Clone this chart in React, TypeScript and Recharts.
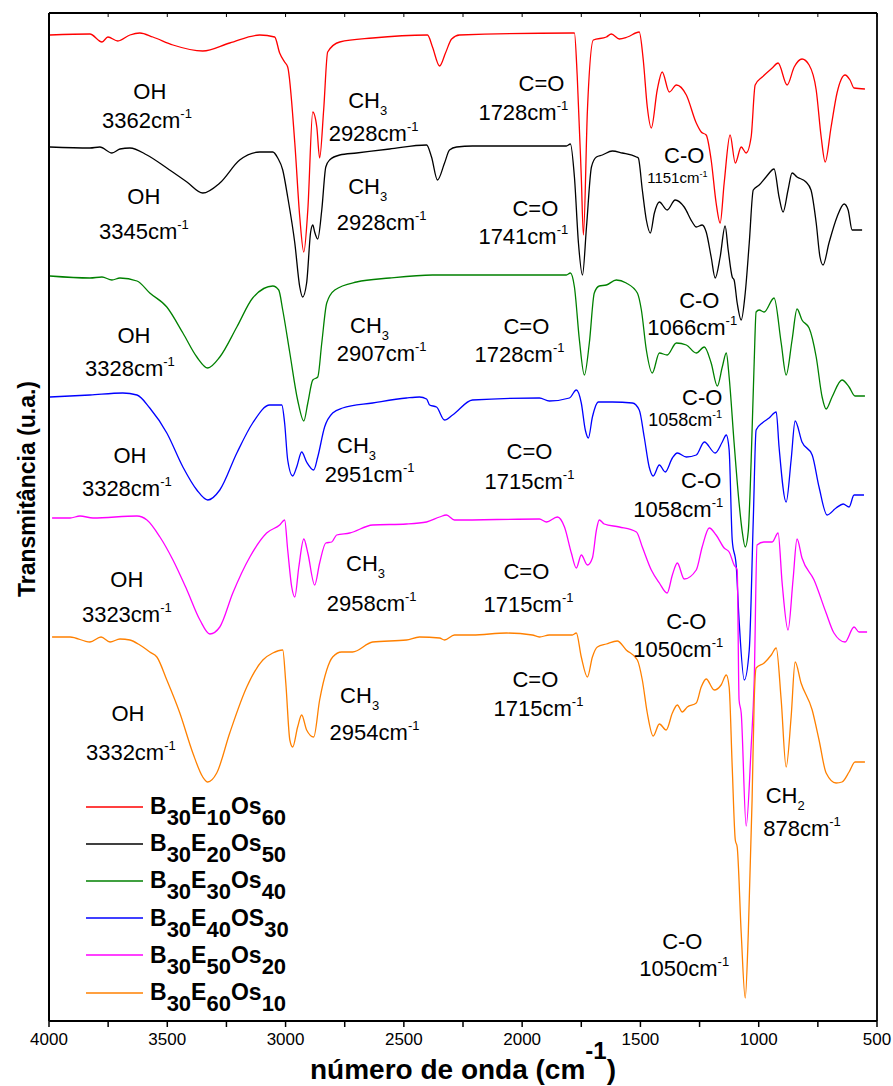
import { LineChart, Line, XAxis, YAxis, Legend, Label, ReferenceDot } from "recharts";

const FONT = "'Liberation Sans', Arial, Helvetica, sans-serif";

// wavenumber (cm-1) and transmittance (a.u., stacked) for each sample
const redWave = [3996, 3827, 3776, 3751, 3709, 3658, 3616, 3561, 3476, 3350, 3236, 3109, 3046, 3025, 3004, 2991, 2961, 2940, 2923, 2906, 2885, 2868, 2856, 2839, 2822, 2771, 2632, 2400, 2379, 2349, 2324, 2298, 2265, 1788, 1779, 1767, 1750, 1741, 1724, 1699, 1644, 1623, 1589, 1555, 1505, 1488, 1471, 1454, 1429, 1408, 1378, 1348, 1306, 1264, 1243, 1222, 1201, 1180, 1163, 1146, 1121, 1099, 1074, 1053, 1032, 1015, 985, 943, 918, 880, 850, 817, 787, 757, 736, 719, 694, 669, 635, 614, 597, 551];
const redT = [986, 987, 979, 984, 980, 986, 988, 984, 976, 970, 978, 986, 984, 968, 959, 954, 878, 804, 769, 811, 909, 894, 863, 911, 969, 979, 983, 986, 974, 955, 968, 982, 986, 988, 988, 944, 844, 786, 911, 981, 984, 987, 982, 984, 989, 961, 914, 893, 931, 949, 929, 936, 926, 898, 889, 886, 861, 818, 798, 838, 886, 858, 874, 868, 884, 936, 944, 953, 958, 936, 954, 962, 956, 931, 884, 859, 894, 928, 946, 941, 933, 932];

const blackWave = [3996, 3827, 3785, 3734, 3700, 3658, 3586, 3502, 3417, 3350, 3278, 3194, 3109, 3054, 3033, 3012, 2991, 2961, 2940, 2928, 2911, 2894, 2885, 2877, 2864, 2847, 2830, 2814, 2771, 2700, 2560, 2404, 2383, 2358, 2328, 2307, 2277, 2210, 1813, 1796, 1779, 1762, 1745, 1728, 1707, 1686, 1661, 1619, 1577, 1517, 1509, 1492, 1475, 1458, 1441, 1420, 1387, 1353, 1315, 1281, 1264, 1239, 1222, 1201, 1184, 1163, 1142, 1129, 1112, 1104, 1091, 1074, 1057, 1040, 1023, 998, 969, 935, 914, 897, 876, 859, 838, 800, 779, 757, 741, 728, 703, 669, 639, 622, 605, 563];
const blackT = [874, 873, 874, 868, 872, 873, 866, 853, 839, 828, 838, 861, 869, 869, 863, 851, 824, 778, 734, 724, 738, 789, 796, 789, 782, 811, 854, 861, 866, 868, 872, 876, 864, 841, 858, 871, 874, 875, 875, 877, 844, 778, 746, 794, 854, 864, 866, 870, 868, 864, 863, 831, 801, 788, 808, 819, 811, 821, 814, 799, 794, 796, 789, 764, 743, 764, 795, 771, 744, 741, 718, 701, 728, 778, 831, 836, 844, 852, 824, 809, 831, 848, 844, 839, 831, 798, 764, 756, 778, 804, 817, 811, 791, 791];

const greenWave = [3996, 3827, 3776, 3734, 3700, 3628, 3574, 3502, 3434, 3375, 3329, 3278, 3206, 3139, 3054, 3029, 3012, 2982, 2949, 2923, 2906, 2885, 2864, 2847, 2826, 2792, 2700, 2560, 2379, 2265, 1813, 1796, 1779, 1758, 1737, 1716, 1695, 1674, 1644, 1602, 1560, 1513, 1496, 1475, 1450, 1420, 1387, 1348, 1306, 1264, 1230, 1201, 1175, 1154, 1137, 1125, 1104, 1083, 1070, 1057, 1044, 1032, 1019, 1011, 998, 977, 935, 905, 884, 859, 838, 817, 787, 757, 732, 715, 690, 648, 618, 593, 551];
const greenT = [745, 743, 744, 741, 743, 740, 728, 714, 688, 664, 653, 664, 694, 723, 735, 731, 711, 668, 621, 600, 618, 641, 644, 678, 718, 731, 739, 743, 746, 746, 746, 748, 734, 681, 646, 678, 728, 735, 736, 741, 738, 728, 711, 671, 648, 668, 666, 678, 676, 668, 674, 658, 635, 654, 668, 644, 578, 518, 490, 474, 490, 560, 660, 709, 711, 709, 723, 678, 646, 681, 712, 701, 693, 664, 624, 612, 624, 641, 634, 625, 625];

const blueWave = [3996, 3827, 3688, 3628, 3574, 3502, 3434, 3375, 3329, 3278, 3206, 3139, 3067, 3016, 3004, 2991, 2970, 2953, 2932, 2911, 2881, 2864, 2835, 2801, 2759, 2632, 2489, 2434, 2404, 2391, 2362, 2328, 2294, 2210, 1927, 1885, 1800, 1771, 1750, 1733, 1720, 1703, 1678, 1619, 1534, 1505, 1484, 1463, 1446, 1420, 1395, 1365, 1344, 1306, 1264, 1230, 1184, 1154, 1137, 1125, 1112, 1095, 1083, 1061, 1040, 1023, 1011, 985, 956, 926, 914, 884, 863, 846, 817, 774, 745, 711, 673, 643, 618, 597, 555];
const blueT = [624, 626, 628, 626, 613, 588, 554, 531, 521, 531, 568, 598, 616, 616, 598, 561, 545, 554, 569, 559, 551, 564, 594, 608, 613, 618, 623, 624, 622, 616, 614, 601, 606, 621, 623, 620, 623, 631, 618, 591, 583, 604, 619, 619, 618, 611, 584, 554, 545, 556, 549, 563, 568, 564, 566, 579, 568, 579, 586, 571, 481, 455, 401, 341, 371, 501, 591, 598, 603, 609, 574, 519, 561, 600, 579, 566, 534, 506, 513, 517, 514, 526, 526];

const magentaWave = [3987, 3911, 3869, 3814, 3628, 3586, 3531, 3476, 3417, 3362, 3320, 3278, 3223, 3151, 3080, 3025, 3004, 2991, 2974, 2961, 2944, 2923, 2906, 2877, 2856, 2830, 2805, 2784, 2729, 2632, 2489, 2404, 2349, 2320, 2286, 1927, 1897, 1851, 1821, 1792, 1771, 1750, 1724, 1703, 1686, 1674, 1653, 1589, 1517, 1492, 1454, 1420, 1387, 1365, 1344, 1315, 1264, 1239, 1209, 1180, 1146, 1125, 1104, 1091, 1083, 1074, 1053, 1032, 1019, 1007, 977, 943, 918, 901, 876, 855, 838, 817, 766, 715, 682, 635, 597, 576, 542];
const magentaT = [503, 503, 505, 503, 505, 501, 484, 461, 431, 401, 387, 394, 428, 464, 488, 496, 501, 471, 434, 424, 454, 482, 468, 436, 458, 478, 479, 486, 488, 496, 497, 499, 504, 506, 501, 502, 499, 504, 494, 468, 453, 466, 456, 463, 491, 501, 497, 494, 489, 474, 451, 438, 428, 446, 458, 442, 451, 474, 493, 486, 473, 469, 456, 451, 321, 308, 195, 274, 341, 476, 479, 479, 488, 438, 391, 441, 482, 463, 441, 408, 388, 379, 394, 389, 389];

const orangeWave = [3987, 3911, 3827, 3780, 3742, 3700, 3658, 3616, 3574, 3544, 3502, 3447, 3392, 3350, 3329, 3291, 3236, 3164, 3096, 3054, 3012, 2999, 2982, 2970, 2949, 2932, 2911, 2881, 2856, 2826, 2801, 2763, 2717, 2632, 2489, 2434, 2349, 2328, 2286, 2210, 2066, 1957, 1927, 1885, 1788, 1771, 1750, 1724, 1703, 1682, 1644, 1598, 1560, 1513, 1492, 1471, 1446, 1420, 1391, 1365, 1344, 1323, 1302, 1264, 1243, 1222, 1188, 1159, 1137, 1125, 1112, 1099, 1091, 1074, 1057, 1044, 1028, 1019, 1011, 977, 947, 926, 905, 884, 863, 846, 821, 774, 745, 715, 673, 648, 618, 593, 551];
const orangeT = [384, 384, 379, 384, 379, 382, 381, 376, 369, 364, 341, 308, 268, 244, 239, 248, 288, 334, 361, 368, 371, 338, 281, 274, 294, 306, 291, 284, 321, 351, 364, 369, 369, 379, 381, 384, 383, 381, 386, 386, 388, 386, 384, 386, 386, 388, 364, 344, 364, 374, 377, 380, 371, 361, 341, 308, 285, 297, 291, 308, 316, 309, 314, 318, 334, 342, 331, 336, 346, 334, 254, 181, 174, 88, 23, 88, 221, 321, 353, 358, 366, 373, 321, 254, 304, 359, 338, 311, 281, 248, 238, 239, 249, 259, 259];

const xTicks = [4000, 3750, 3500, 3250, 3000, 2750, 2500, 2250, 2000, 1750, 1500, 1250, 1000, 750, 500];
const X_MIN = 500;
const X_MAX = 4000;
const Y_MAX = 1008;

// band assignments written on the plot
const notes = [
  { w: 3574, t: 930, text: "OH" },
  { w: 3586, t: 904, text: "3362cm", sup: "-1" },
  { w: 3599, t: 825, text: "OH" },
  { w: 3599, t: 793, text: "3345cm", sup: "-1" },
  { w: 3641, t: 686, text: "OH" },
  { w: 3658, t: 656, text: "3328cm", sup: "-1" },
  { w: 3658, t: 566, text: "OH" },
  { w: 3671, t: 536, text: "3328cm", sup: "-1" },
  { w: 3671, t: 442, text: "OH" },
  { w: 3671, t: 410, text: "3323cm", sup: "-1" },
  { w: 3666, t: 308, text: "OH" },
  { w: 3654, t: 272, text: "3332cm", sup: "-1" },
  { w: 2653, t: 921, text: "CH", sub: "3" },
  { w: 2628, t: 891, text: "2928cm", sup: "-1" },
  { w: 2653, t: 835, text: "CH", sub: "3" },
  { w: 2594, t: 802, text: "2928cm", sup: "-1" },
  { w: 2645, t: 696, text: "CH", sub: "3" },
  { w: 2594, t: 671, text: "2907cm", sup: "-1" },
  { w: 2700, t: 576, text: "CH", sub: "3" },
  { w: 2645, t: 550, text: "2951cm", sup: "-1" },
  { w: 2662, t: 458, text: "CH", sub: "3" },
  { w: 2636, t: 421, text: "2958cm", sup: "-1" },
  { w: 2687, t: 326, text: "CH", sub: "3" },
  { w: 2624, t: 292, text: "2954cm", sup: "-1" },
  { w: 1918, t: 938, text: "C=O" },
  { w: 1995, t: 912, text: "1728cm", sup: "-1" },
  { w: 1944, t: 813, text: "C=O" },
  { w: 1995, t: 788, text: "1741cm", sup: "-1" },
  { w: 1982, t: 695, text: "C=O" },
  { w: 2011, t: 670, text: "1728cm", sup: "-1" },
  { w: 1969, t: 570, text: "C=O" },
  { w: 1969, t: 543, text: "1715cm", sup: "-1" },
  { w: 1982, t: 450, text: "C=O" },
  { w: 1973, t: 420, text: "1715cm", sup: "-1" },
  { w: 1944, t: 342, text: "C=O" },
  { w: 1931, t: 316, text: "1715cm", sup: "-1" },
  { w: 1315, t: 866, text: "C-O" },
  { w: 1344, t: 846, text: "1151cm", sup: "-1", size: 15 },
  { w: 1251, t: 721, text: "C-O" },
  { w: 1281, t: 697, text: "1066cm", sup: "-1" },
  { w: 1239, t: 624, text: "C-O" },
  { w: 1311, t: 604, text: "1058cm", sup: "-1", size: 18 },
  { w: 1243, t: 541, text: "C-O" },
  { w: 1340, t: 515, text: "1058cm", sup: "-1" },
  { w: 1306, t: 400, text: "C-O" },
  { w: 1340, t: 375, text: "1050cm", sup: "-1" },
  { w: 1323, t: 80, text: "C-O" },
  { w: 1315, t: 56, text: "1050cm", sup: "-1" },
  { w: 888, t: 226, text: "CH", sub: "2" },
  { w: 817, t: 196, text: "878cm", sup: "-1" },
];

const zip = (w: number[], t: number[]) => w.map((x, i) => ({ w: x, t: t[i] }));

const series = [
  { name: "B30E10Os60", color: "#ff0000", data: zip(redWave, redT) },
  { name: "B30E20Os50", color: "#000000", data: zip(blackWave, blackT) },
  { name: "B30E30Os40", color: "#008000", data: zip(greenWave, greenT) },
  { name: "B30E40OS30", color: "#0000ff", data: zip(blueWave, blueT) },
  { name: "B30E50Os20", color: "#ff00ff", data: zip(magentaWave, magentaT) },
  { name: "B30E60Os10", color: "#ff8000", data: zip(orangeWave, orangeT) },
];

// chart box
const W = 893;
const H = 1086;
const PLOT = { left: 49, top: 13, right: 877, bottom: 1021 };

function NoteText({ cx, cy, note }: any) {
  const size = note.size ?? 22;
  const small = Math.round(size * 0.6);
  return (
    <text
      x={cx}
      y={cy + size * 0.36 + (note.sup ? 3 : 0)}
      textAnchor="middle"
      fontFamily={FONT}
      fontSize={size}
      fill="#000"
    >
      {note.text}
      {note.sub && (
        <tspan dy={size * 0.3} fontSize={small}>
          {note.sub}
        </tspan>
      )}
      {note.sup && (
        <tspan dy={-size * 0.45} fontSize={small}>
          {note.sup}
        </tspan>
      )}
    </text>
  );
}

function Formula({ name }: { name: string }) {
  const parts = name.split(/(\d+)/).filter((p) => p !== "");
  return (
    <span style={{ fontFamily: FONT, fontWeight: "bold", fontSize: 23, lineHeight: "23px", whiteSpace: "nowrap" }}>
      {parts.map((p, i) =>
        /\d/.test(p) ? (
          <span key={i} style={{ position: "relative", top: 11, fontSize: 22 }}>
            {p}
          </span>
        ) : (
          <span key={i}>{p}</span>
        )
      )}
    </span>
  );
}

function renderLegend() {
  return (
    <div>
      {series.map((s) => (
        <div key={s.name} style={{ display: "flex", alignItems: "center", height: 37.2 }}>
          <svg width={64} height={4} style={{ display: "block" }}>
            <line x1={0} x2={57} y1={2} y2={2} stroke={s.color} strokeWidth={1.5} />
          </svg>
          <Formula name={s.name} />
        </div>
      ))}
    </div>
  );
}

function XTitle(props: any) {
  const vb = props.viewBox || { x: 49, y: 1021, width: 828 };
  return (
    <text
      x={vb.x + vb.width / 2}
      y={vb.y + 58}
      textAnchor="middle"
      fontFamily={FONT}
      fontWeight="bold"
      fontSize={28}
      fill="#000"
    >
      número de onda (cm
      <tspan dy={-20} fontSize={24}>-1</tspan>
      <tspan dy={20}>)</tspan>
    </text>
  );
}

function YTitle(props: any) {
  const vb = props.viewBox || { x: 0, y: 13, height: 1008 };
  const cx = 27;
  const cy = vb.y + vb.height / 2 - 28;
  return (
    <text
      transform={`translate(${cx},${cy}) rotate(-90)`}
      textAnchor="middle"
      dy="0.35em"
      fontFamily={FONT}
      fontWeight="bold"
      fontSize={23}
      fill="#000"
    >
      Transmitância (u.a.)
    </text>
  );
}

// top and right edges of the box, with small inward ticks along the top
function Frame() {
  const pw = PLOT.right - PLOT.left;
  const tx = (v: number) => PLOT.left + ((X_MAX - v) / (X_MAX - X_MIN)) * pw;
  return (
    <svg
      width={W}
      height={H}
      style={{ position: "absolute", left: 0, top: 0, pointerEvents: "none" }}
    >
      <line x1={PLOT.left} x2={PLOT.right} y1={PLOT.top} y2={PLOT.top} stroke="#000" strokeWidth={1.8} />
      <line x1={PLOT.right} x2={PLOT.right} y1={PLOT.top} y2={PLOT.bottom} stroke="#000" strokeWidth={1.8} />
      {xTicks.map((v) => (
        <line key={v} x1={tx(v)} x2={tx(v)} y1={PLOT.top} y2={PLOT.top + 4} stroke="#000" strokeWidth={1} />
      ))}
    </svg>
  );
}

export default function App() {
  return (
    <div style={{ position: "absolute", left: 0, top: 0, width: W, height: H, background: "#fff" }}>
      <LineChart
        width={W}
        height={H}
        margin={{ top: PLOT.top, right: W - PLOT.right, bottom: 0, left: 0 }}
      >
        <XAxis
          dataKey="w"
          type="number"
          domain={[X_MIN, X_MAX]}
          reversed
          allowDataOverflow
          ticks={xTicks}
          interval={0}
          tickFormatter={(v: number) => (v % 500 === 0 ? String(v) : "")}
          height={H - PLOT.bottom}
          tickSize={6}
          tickMargin={6}
          axisLine={{ stroke: "#000", strokeWidth: 2 }}
          tickLine={{ stroke: "#000", strokeWidth: 1.5 }}
          tick={{ fill: "#000", fontSize: 17, fontFamily: FONT }}
        >
          <Label content={<XTitle />} />
        </XAxis>
        <YAxis
          type="number"
          domain={[0, Y_MAX]}
          allowDataOverflow
          width={PLOT.left}
          tick={false}
          tickLine={false}
          axisLine={{ stroke: "#000", strokeWidth: 2 }}
        >
          <Label content={<YTitle />} />
        </YAxis>
        {series.map((s) => (
          <Line
            key={s.name}
            name={s.name}
            data={s.data}
            dataKey="t"
            type="monotone"
            stroke={s.color}
            strokeWidth={1.3}
            dot={false}
            activeDot={false}
            isAnimationActive={false}
          />
        ))}
        {notes.map((n, i) => (
          <ReferenceDot
            key={i}
            x={n.w}
            y={n.t}
            r={0}
            ifOverflow="visible"
            shape={(p: any) => <NoteText cx={p.cx} cy={p.cy} note={n} />}
          />
        ))}
        <Legend
          layout="vertical"
          align="center"
          verticalAlign="middle"
          content={renderLegend}
          wrapperStyle={{ left: 86, top: 788, width: 260 }}
        />
      </LineChart>
      <Frame />
    </div>
  );
}
